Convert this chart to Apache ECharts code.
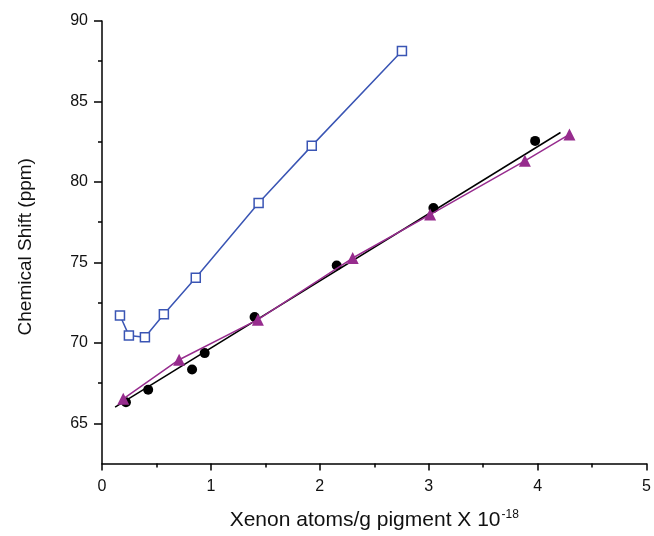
<!DOCTYPE html>
<html>
<head>
<meta charset="utf-8">
<script src="https://cdn.jsdelivr.net/npm/echarts@6/dist/echarts.min.js"></script>
<style>
  html, body { margin: 0; padding: 0; background: #fff; }
  #chart { width: 654px; height: 536px; }
</style>
</head>
<body>
<div id="chart"></div>
<script>
// open squares, joined by a line
const squareX = [0.165, 0.247, 0.394, 0.568, 0.861, 1.438, 1.926, 2.754];
const squareY = [71.7, 70.46, 70.35, 71.77, 74.05, 78.69, 82.24, 88.13];

// filled circles with a straight fit line
const circleX = [0.22, 0.424, 0.827, 0.943, 1.401, 2.155, 3.043, 3.977];
const circleY = [66.31, 67.08, 68.34, 69.36, 71.6, 74.8, 78.38, 82.55];
const fitX = [0.12, 4.21];
const fitY = [66.0, 83.07];

// triangles, joined by a line
const triX = [0.195, 0.708, 1.431, 2.302, 3.013, 3.883, 4.292];
const triY = [66.52, 68.95, 71.44, 75.27, 77.97, 81.31, 82.95];

const yMajor = [65, 70, 75, 80, 85, 90];
const yMinor = [67.5, 72.5, 77.5, 82.5, 87.5];

const zip = (xs, ys) => xs.map((x, i) => [x, ys[i]]);

const blue = '#3a55b4';
const purple = '#972c8e';
const font = 'Liberation Sans, Arial, sans-serif';

const chart = echarts.init(document.getElementById('chart'));

chart.setOption({
  animation: false,
  grid: { left: 102, right: 7, top: 21, bottom: 72 },
  xAxis: {
    type: 'value',
    min: 0,
    max: 5,
    interval: 1,
    name: '{n|Xenon atoms/g pigment X 10}{s|-18}',
    nameLocation: 'middle',
    nameGap: 45,
    nameTextStyle: {
      rich: {
        n: { fontSize: 21, color: '#111', fontFamily: font },
        s: { fontSize: 12, color: '#111', fontFamily: font, verticalAlign: 'top', padding: [0, 0, 12, 1] }
      }
    },
    axisLine: { show: true, lineStyle: { color: '#000', width: 1.5 } },
    axisTick: { show: true, length: 7, lineStyle: { color: '#000', width: 1.5 } },
    minorTick: { show: true, splitNumber: 2, length: 4, lineStyle: { color: '#000', width: 1.5 } },
    axisLabel: { fontSize: 16, color: '#111', fontFamily: font, margin: 15 },
    splitLine: { show: false }
  },
  yAxis: [
    {
      type: 'value',
      min: 62.5,
      max: 90,
      interval: 2.5,
      name: 'Chemical Shift (ppm)',
      nameLocation: 'middle',
      nameGap: 67,
      nameTextStyle: { fontSize: 19, color: '#111', fontFamily: font, padding: [0, 9, 0, 0] },
      axisLine: { show: true, lineStyle: { color: '#000', width: 1.5 } },
      axisTick: { show: true, length: 8, customValues: yMajor, lineStyle: { color: '#000', width: 1.5 } },
      axisLabel: { fontSize: 16, color: '#111', fontFamily: font, margin: 14, customValues: yMajor },
      splitLine: { show: false }
    },
    {
      type: 'value',
      position: 'left',
      min: 62.5,
      max: 90,
      interval: 2.5,
      axisLine: { show: false },
      axisTick: { show: true, length: 4, customValues: yMinor, lineStyle: { color: '#000', width: 1.5 } },
      axisLabel: { show: false },
      splitLine: { show: false }
    }
  ],
  series: [
    {
      name: 'squares',
      type: 'line',
      data: zip(squareX, squareY),
      symbol: 'rect',
      symbolSize: 9,
      lineStyle: { color: blue, width: 1.5 },
      itemStyle: { color: '#fff', borderColor: blue, borderWidth: 1.5 },
      z: 3
    },
    {
      name: 'fit',
      type: 'line',
      data: zip(fitX, fitY),
      symbol: 'none',
      lineStyle: { color: '#000', width: 1.5 },
      z: 2
    },
    {
      name: 'circles',
      type: 'scatter',
      data: zip(circleX, circleY),
      symbol: 'circle',
      symbolSize: 10,
      itemStyle: { color: '#000', opacity: 1 },
      z: 4
    },
    {
      name: 'triangles',
      type: 'line',
      data: zip(triX, triY),
      symbol: 'triangle',
      symbolSize: 12,
      lineStyle: { color: purple, width: 1.5 },
      itemStyle: { color: purple, borderWidth: 0 },
      z: 5
    }
  ]
});
</script>
</body>
</html>
